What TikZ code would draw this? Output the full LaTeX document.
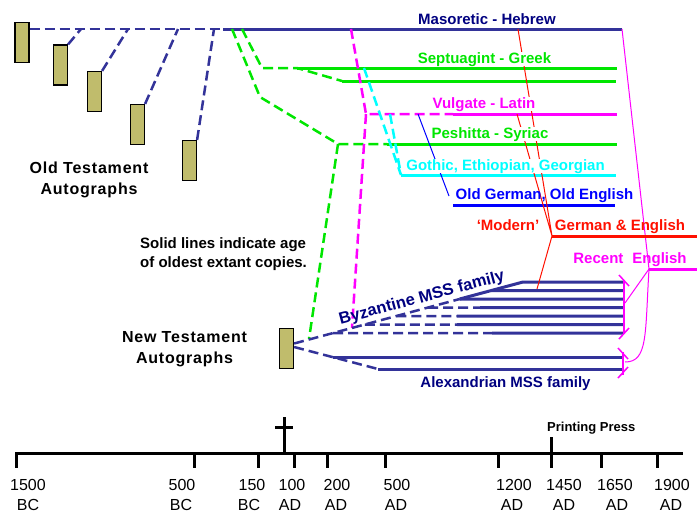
\documentclass[tikz,border=0pt]{standalone}
\usepackage{fontspec}
\setmainfont{Liberation Sans}
\usetikzlibrary{calc}
\definecolor{msblue}{RGB}{51,51,153}
\definecolor{navytext}{RGB}{0,0,128}
\definecolor{grn}{RGB}{0,230,0}
\definecolor{cyn}{RGB}{0,255,255}
\definecolor{mag}{RGB}{255,0,255}
\definecolor{blu}{RGB}{0,0,255}
\definecolor{rd}{RGB}{255,16,0}
\definecolor{khaki}{RGB}{192,188,108}
\begin{document}
\begin{tikzpicture}[x=1pt, y=-1pt,
  extant/.style={line width=3pt},
  lost/.style={line width=2.5pt, dash pattern=on 10pt off 5pt},
  link/.style={line width=1pt},
  autograph/.style={draw=black, fill=khaki, line width=1.2pt, minimum width=14pt, minimum height=40pt, inner sep=0pt},
  lbl/.style={font=\bfseries\fontsize{15}{18}\selectfont, inner sep=0pt, anchor=base},
  lblw/.style={lbl, fill=white},
  note/.style={font=\bfseries\fontsize{16}{21}\selectfont\addfontfeatures{LetterSpace=5}, inner sep=0pt, anchor=base, align=center},
  yrlbl/.style={font=\fontsize{16}{20}\selectfont, inner sep=0pt, anchor=base}]
\useasboundingbox (0,0) rectangle (697,523);
\foreach \n/\x/\y in {ot1/22/42.5, ot2/60.5/65, ot3/94.5/91.5, ot4/137.5/124.5, ot5/189.5/160.5, nt/286.5/348.5}
  \node[autograph] (\n) at (\x,\y) {};
\path (223,29) coordinate (ms) (622,29) coordinate (me) (81,29) coordinate (m1) (128,29) coordinate (m2)
  (178,29) coordinate (m3) (214,29) coordinate (m4)
  (242,29) coordinate (sp0) (262,68) coordinate (sp1) (297,68) coordinate (sp2) (617,68) coordinate (sp3)
  (342,81) coordinate (sp4) (616,81) coordinate (sp5)
  (232,29) coordinate (ps0) (260,97) coordinate (ps1) (338,144) coordinate (ps2) (387,144) coordinate (ps3)
  (617,144) coordinate (ps4) (309,339) coordinate (ps5)
  (351,29) coordinate (vg0) (366,114) coordinate (vg1) (453,114) coordinate (vg2) (617,114) coordinate (vg3)
  (352,328) coordinate (vg4)
  (364,68) coordinate (gt0) (390,114) coordinate (gt1) (401,175) coordinate (gt2) (616,175) coordinate (gt3)
  (418,114) coordinate (og0) (449,196) coordinate (og1) (453,205) coordinate (og2) (615,205) coordinate (og3)
  (518,29) coordinate (md0) (517,114) coordinate (md1) (552,236) coordinate (md2) (537,289) coordinate (md3)
  (697,236) coordinate (md4)
  (649,269) coordinate (rc0) (697,269) coordinate (rc1);
% Old Testament
\draw[lost, msblue] (ot1.east |- ms) -- (ms);
\draw[extant, msblue] (ms) -- (me);
\foreach \n/\m in {ot2/m1, ot3/m2, ot4/m3, ot5/m4}
  \draw[lost, msblue] (\n.north east) -- (\m);
\draw[lost, grn] (sp0) -- (sp1) -- (sp2) -- (sp4);
\draw[extant, grn] (sp2) -- (sp3) (sp4) -- (sp5);
\draw[lost, grn] (ps0) -- (ps1) -- (ps2) -- (ps3) (ps2) -- (ps5);
\draw[extant, grn] (ps3) -- (ps4);
\draw[lost, mag] (vg0) -- (vg1) -- (vg2) (vg1) -- (vg4);
\draw[extant, mag] (vg2) -- (vg3);
\draw[lost, cyn] (gt0) -- (gt2) (gt1) -- (gt2);
\draw[extant, cyn] (gt2) -- (gt3);
\draw[link, blu] (og0) -- (og1);
\draw[extant, blu] (og2) -- (og3);
% New Testament
\path (523,282) coordinate (bt) (623,0) coordinate (bx) ([yshift=5pt]nt.east) coordinate (b0)
  ([yshift=1.5pt]nt.east) coordinate (a0) (333,357) coordinate (a1) (378,369) coordinate (a2)
  (622,357) coordinate (a3) (622,369) coordinate (a4);
\draw[lost, msblue] (b0) -- ($(bt)!2*8.5/61.5!(b0)$) coordinate (bj);
\draw[extant, msblue] (bj) -- (bt) -- (bt -| bx);
\foreach \k/\s in {1/491.3, 2/459.7, 3/480, 4/457, 5/457, 6/492}{
  \path ($(bt)!\k*8.5/61.5!(b0)$) coordinate (bs\k) ({\s},{282+8.5*\k}) coordinate (bm\k) (bs\k -| bx) coordinate (be\k);
  \draw[lost, msblue] (bs\k) -- (bm\k);
  \draw[extant, msblue] (bm\k) -- (be\k);
}
\draw[lost, msblue] (a0) -- (a2);
\draw[extant, msblue] (a1) -- (a3) (a2) -- (a4);
% brackets
\path (624,280) coordinate (bk0) (624,334) coordinate (bk1) (625,303) coordinate (bkm)
  (623,352) coordinate (ak0) (623,375) coordinate (ak1) (625,362) coordinate (akm);
\draw[mag, line width=2.5pt] (bk0) -- (bk1) (ak0) -- (ak1);
\draw[mag, line width=1.5pt] (bk0) ++(-5,-5) -- ++(10,11) (bk1) ++(5,-6) -- ++(-10,11)
  (ak0) ++(-5,-4) -- ++(10,11) (ak1) ++(5,-8) -- ++(-10,11);
\draw[link, mag] (me) -- (rc0) -- (bkm);
\draw[link, mag] (rc0) .. controls (645,335) and (648,362) .. (akm);
\draw[extant, mag] (rc0) -- (rc1);
\draw[link, rd] (md0) -- (md2) -- (md3) (md1) -- (md2);
\draw[extant, rd] (md2) -- (md4);
% labels
\node[lbl, text=navytext] (mas) at (487,24.5) {Masoretic - Hebrew};
\node[lblw, text=grn] (sep) at (484.5,63) {Septuagint - Greek};
\node[lblw, text=mag] (vul) at (484,108) {Vulgate - Latin};
\node[lblw, text=grn] (pes) at (490,138) {Peshitta - Syriac};
\node[lblw, text=cyn] (got) at (505.5,170) {Gothic, Ethiopian, Georgian};
\node[lbl, text=blu] (oge) at (544.5,199) {Old German, Old English};
\node[lbl, text=rd] (mod) at (508,230) {‘Modern’};
\node[lbl, text=rd] (gee) at (620,230) {German \& English};
\node[lbl, text=mag] (rce) at (630,263) {Recent\hspace{9pt}English};
\node[lbl, text=navytext, font=\bfseries\fontsize{16.5}{18}\selectfont, rotate=15] (byz) at (423,302.5) {Byzantine MSS family};
\node[lbl, text=navytext] (alx) at (505.5,387) {Alexandrian MSS family};
\node[note] (otl) at (89,194) {Old Testament\\Autographs};
\node[note] (ntl) at (184.5,363) {New Testament\\Autographs};
\node[note, anchor=base west, align=left, font=\bfseries\fontsize{15}{19}\selectfont] (sol) at (140,267) {Solid lines indicate age\\of oldest extant copies.};
% time line
\draw[line width=3pt] (15,453) coordinate (ax0) -- (683,453) coordinate (ax1);
\draw[line width=3pt] (284,417) -- (284,453) (275,427) -- (293,427);
\draw[line width=3pt] (551,437) -- (551,453);
\node[anchor=base west, inner sep=0pt, font=\bfseries\fontsize{13}{15}\selectfont] (press) at (547,431) {Printing Press};
\foreach \x/\lx/\ex/\yr/\era [count=\i] in {16.5/28/28/1500/BC, 194/182/181/500/BC, 258/252/249/150/BC,
  294/292/290/100/AD, 327/337/336/200/AD, 385/397/396/500/AD, 498/514/512/1200/AD, 551/564/564/1450/AD,
  601/615/617/1650/AD, 657/672/671/1900/AD}{
  \draw[line width=3pt] (\x,452) -- (\x,468);
  \node[yrlbl] (yr\i) at (\lx,490) {\yr};
  \node[yrlbl] (era\i) at (\ex,510) {\era};
}
\end{tikzpicture}
\end{document}
